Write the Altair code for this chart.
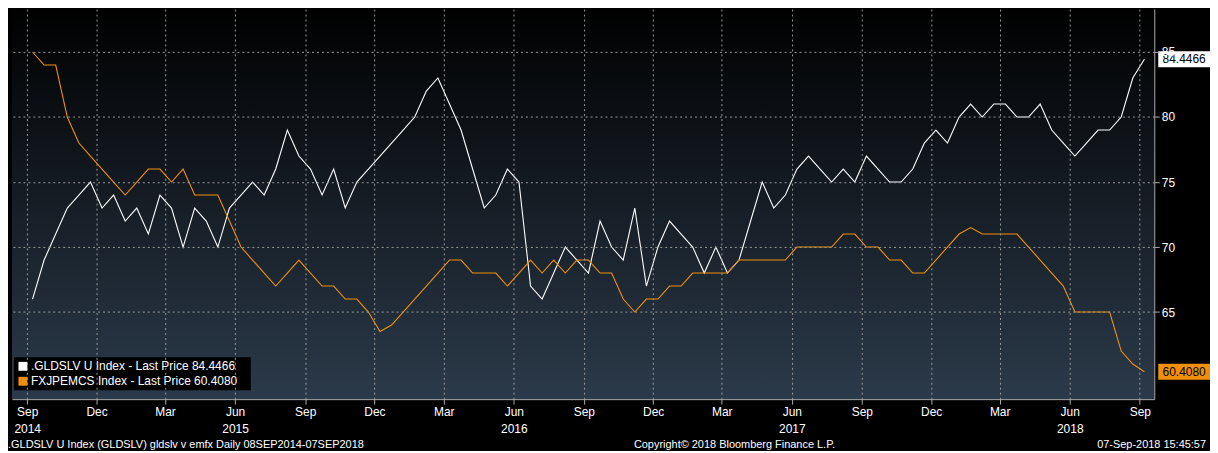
import altair as alt
import pandas as pd

gld = [66,69,71,73,74,75,73,74,72,73,71,74,73,70,73,72,70,73,74,75,74,76,79,77,76,74,76,73,75,76,77,78,79,80,82,83,81,79,76,73,74,76,75,67,66,68,70,69,68,72,70,69,73,67,70,72,71,70,68,70,68,69,72,75,73,74,76,77,76,75,76,75,77,76,75,75,76,78,79,78,80,81,80,81,81,80,80,81,79,78,77,78,79,79,80,83,84.4466]
fxj = [85,84,84,80,78,77,76,75,74,75,76,76,75,76,74,74,74,72,70,69,68,67,68,69,68,67,67,66,66,65,63.5,64,65,66,67,68,69,69,68,68,68,67,68,69,68,69,68,69,69,68,68,66,65,66,66,67,67,68,68,68,68,69,69,69,69,69,70,70,70,70,71,71,70,70,69,69,68,68,69,70,71,71.5,71,71,71,71,70,69,68,67,65,65,65,65,62,61,60.408]

g = pd.DataFrame({"date": pd.date_range("2014-09-08", "2018-09-07", periods=len(gld)), "v": gld, "s": "g"})
f = pd.DataFrame({"date": pd.date_range("2014-09-08", "2018-09-07", periods=len(fxj)), "v": fxj, "s": "f"})
df = pd.concat([g, f])

W, H = 1148, 392
ticks = [f"{y}-{m:02d}-01" for y in range(2014, 2019) for m in (3, 6, 9, 12)]
ticks = [t for t in ticks if "2014-09-01" <= t <= "2018-09-01"]
xs = alt.Scale(domain=["2014-08-12", "2018-09-20"])
ys = alt.Scale(domain=[58.3, 88.3])

bg = alt.Chart(pd.DataFrame({"a": [0]})).mark_rect(
    color=alt.LinearGradient(gradient="linear", x1=0, x2=0, y1=0, y2=1,
        stops=[alt.GradientStop(offset=0, color="#000000"), alt.GradientStop(offset=1, color="#2b3a4a")])
).encode(x=alt.value(0), x2=alt.value(W), y=alt.value(0), y2=alt.value(H))

ax = dict(grid=True, gridDash=[2, 3], gridColor="#9a9a9a", labelColor="white", tickColor="#aaa",
          domainColor="#aaa", labelFontSize=12, title=None, labelFont="Arial", zindex=1)
xlab = ("(month(datum.value)==8 && year(datum.value)==2014) || month(datum.value)==5 ? "
        "[timeFormat(datum.value, '%b'), timeFormat(datum.value, '%Y')] : timeFormat(datum.value, '%b')")
lines = alt.Chart(df).mark_line(strokeWidth=1.1).encode(
    x=alt.X("date:T", scale=xs, axis=alt.Axis(values=ticks, labelExpr=xlab, labelLineHeight=18,
                                              labelBaseline="top", **ax)),
    y=alt.Y("v:Q", scale=ys, axis=alt.Axis(orient="right", values=[65, 70, 75, 80, 85], **ax)),
    color=alt.Color("s:N", scale=alt.Scale(domain=["g", "f"], range=["#ffffff", "#f0900a"]), legend=None),
)

last = pd.DataFrame({"v": [84.4466, 60.408], "t": ["84.4466", "60.4080"], "c": ["#ffffff", "#f0900a"]})
lastbox = alt.Chart(last).mark_rect(width=52, height=16).encode(
    x=alt.value(W + 30), y=alt.Y("v:Q", scale=ys), color=alt.Color("c:N", scale=None))
lasttxt = alt.Chart(last).mark_text(fontSize=12, color="black", font="Arial").encode(
    x=alt.value(W + 30), y=alt.Y("v:Q", scale=ys), text="t:N")

leg = pd.DataFrame({"t": [".GLDSLV U Index - Last Price 84.4466", "FXJPEMCS Index - Last Price 60.4080"],
                    "c": ["#ffffff", "#f0900a"], "y": [H - 33, H - 18]})
legbox = alt.Chart(pd.DataFrame({"a": [0]})).mark_rect(color="black").encode(
    x=alt.value(2), x2=alt.value(240), y=alt.value(H - 42), y2=alt.value(H - 9))
legsq = alt.Chart(leg).mark_square(size=80, opacity=1).encode(
    x=alt.value(11), y=alt.Y("y:Q", scale=None), color=alt.Color("c:N", scale=None))
legtxt = alt.Chart(leg).mark_text(align="left", color="white", fontSize=12, font="Arial").encode(
    x=alt.value(19), y=alt.Y("y:Q", scale=None), text="t:N")

foot = pd.DataFrame({"t": [".GLDSLV U Index (GLDSLV) gldslv v emfx  Daily 08SEP2014-07SEP2018",
                           "Copyright© 2018 Bloomberg Finance L.P.", "07-Sep-2018 15:45:57"],
                     "x": [-4, 625, W + 52], "a": ["left", "left", "right"]})
ft = [alt.Chart(foot.iloc[[i]]).mark_text(align=foot.a[i], color="white", fontSize=11, font="Arial").encode(
    x=alt.value(int(foot.x[i])), y=alt.value(H + 46), text="t:N") for i in range(3)]

chart = alt.layer(bg, lines, lastbox, lasttxt, legbox, legsq, legtxt, *ft).properties(
    width=W, height=H, background="black", padding={"left": 0, "top": 0, "right": 0, "bottom": 0}
).configure_view(stroke=None)

chart.save("out.html", embed_options={"renderer": "svg", "actions": False})
